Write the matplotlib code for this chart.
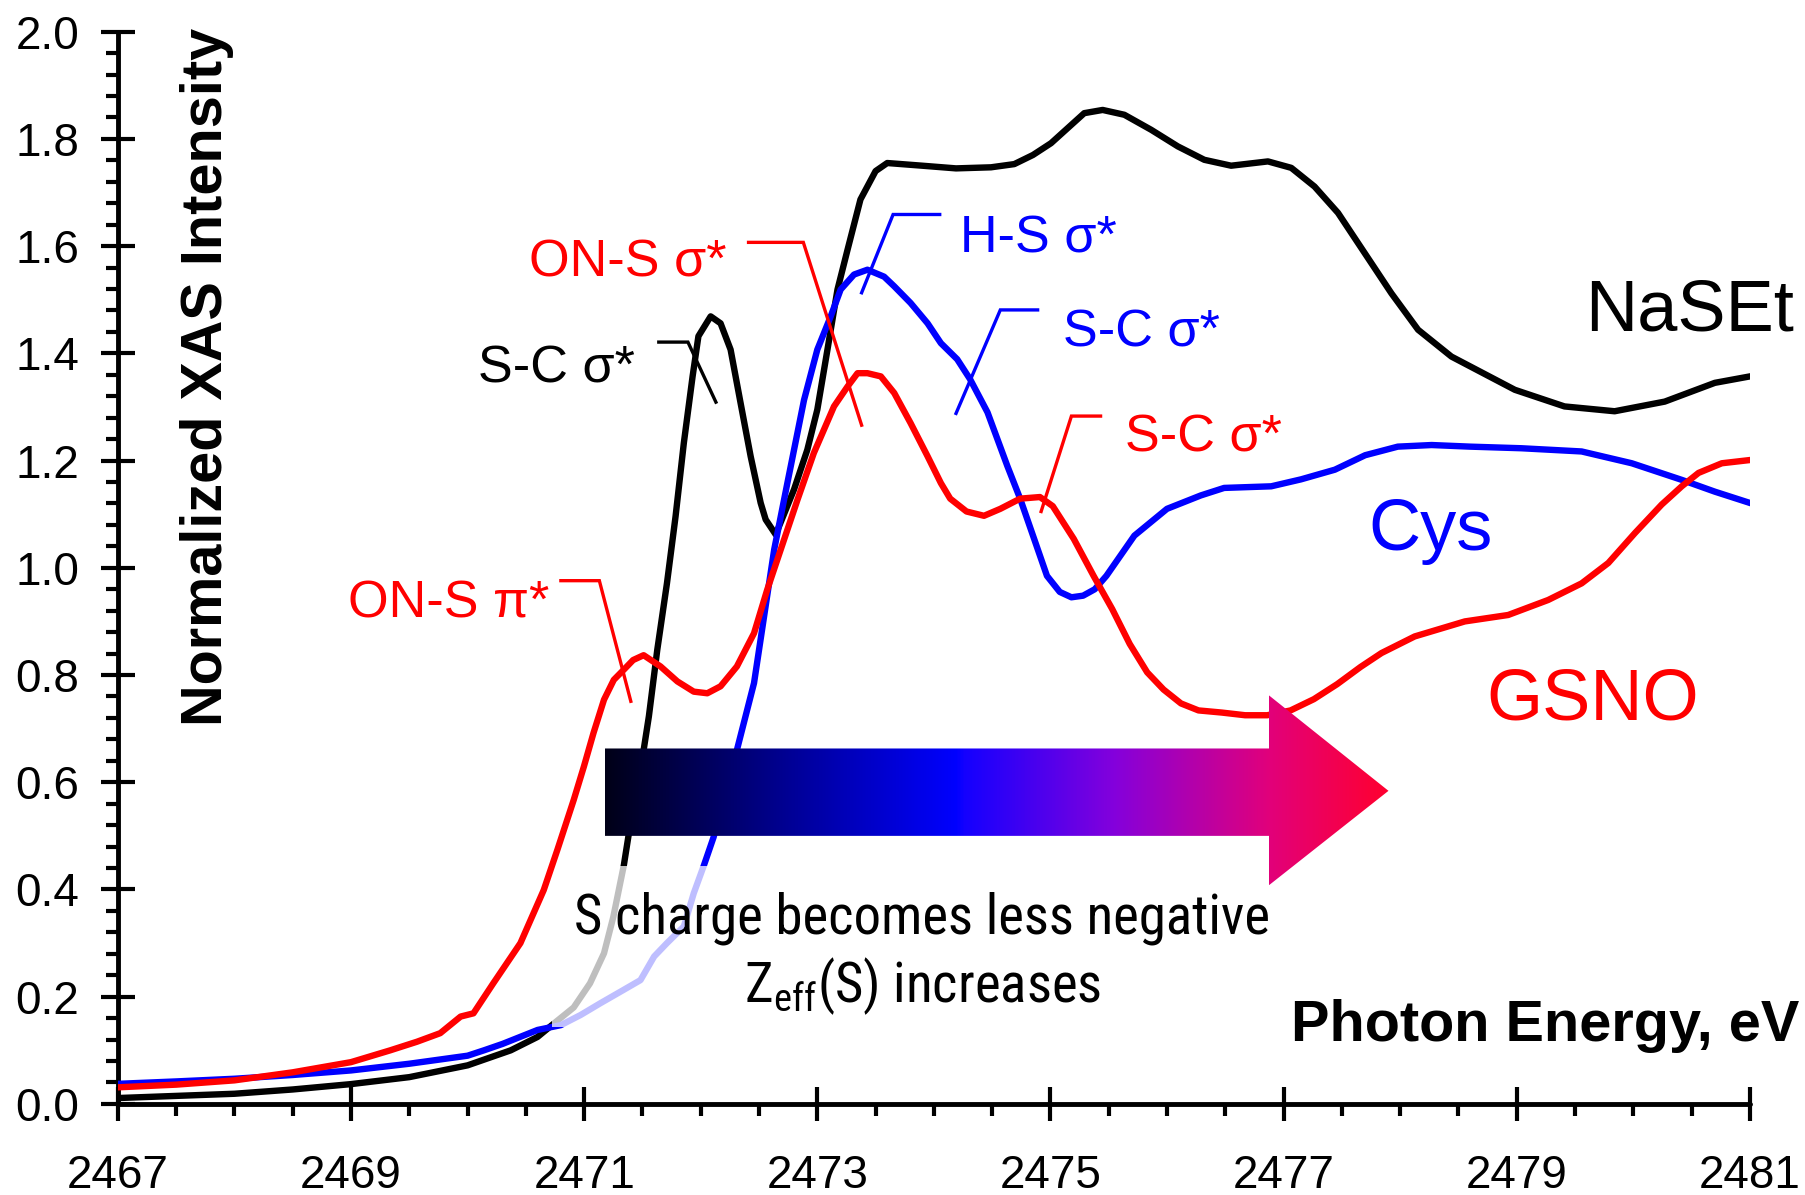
import numpy as np
import matplotlib
matplotlib.use('Agg')
from matplotlib import pyplot as plt
from matplotlib import font_manager
from matplotlib.colors import LinearSegmentedColormap
from matplotlib.patches import Polygon, Rectangle
from matplotlib.ticker import MultipleLocator

plt.rcParams['font.family'] = ['Liberation Sans', 'DejaVu Sans']

# ---- data ----
energy_naset = [2467.0, 2467.5, 2468.0, 2468.5, 2469.0, 2469.5, 2470.0, 2470.37, 2470.6, 2470.74,
                2470.91, 2471.05, 2471.17, 2471.25, 2471.34, 2471.38, 2471.51, 2471.555, 2471.627, 2471.71,
                2471.784, 2471.855, 2471.93, 2471.98, 2472.085, 2472.17, 2472.256, 2472.342, 2472.428, 2472.514,
                2472.557, 2472.643, 2472.80, 2472.914, 2473.0, 2473.087, 2473.173, 2473.259, 2473.37, 2473.5,
                2473.6, 2473.9, 2474.19, 2474.49, 2474.69, 2474.85, 2475.005, 2475.29, 2475.448, 2475.634,
                2475.864, 2476.093, 2476.32, 2476.55, 2476.866, 2477.066, 2477.266, 2477.467, 2477.696, 2477.925,
                2478.154, 2478.44, 2478.984, 2479.41, 2479.84, 2480.27, 2480.70, 2481.0]
naset = [0.011, 0.015, 0.019, 0.027, 0.037, 0.05, 0.072, 0.10, 0.125, 0.15,
         0.18, 0.225, 0.281, 0.349, 0.445, 0.50, 0.66, 0.723, 0.847, 0.971,
         1.096, 1.233, 1.357, 1.432, 1.469, 1.456, 1.407, 1.307, 1.208, 1.121,
         1.09, 1.062, 1.146, 1.22, 1.295, 1.407, 1.519, 1.593, 1.687, 1.74,
         1.755, 1.75, 1.745, 1.747, 1.753, 1.77, 1.792, 1.848, 1.854, 1.845,
         1.817, 1.786, 1.761, 1.75, 1.758, 1.746, 1.711, 1.662, 1.587, 1.512,
         1.444, 1.394, 1.332, 1.301, 1.292, 1.31, 1.345, 1.357]

energy_cys = [2467.0, 2467.5, 2468.0, 2468.5, 2469.0, 2469.5, 2470.0, 2470.14, 2470.3, 2470.6,
              2470.8, 2470.97, 2471.14, 2471.34, 2471.483, 2471.60, 2471.71, 2471.855, 2471.94, 2472.027,
              2472.11, 2472.31, 2472.457, 2472.543, 2472.63, 2472.743, 2472.886, 2473.0, 2473.115, 2473.2,
              2473.315, 2473.43, 2473.573, 2473.66, 2473.80, 2473.946, 2474.06, 2474.2, 2474.31, 2474.46,
              2474.63, 2474.74, 2474.86, 2474.97, 2475.08, 2475.18, 2475.28, 2475.38, 2475.48, 2475.72,
              2476.0, 2476.29, 2476.49, 2476.894, 2477.15, 2477.44, 2477.7, 2477.98, 2478.27, 2478.6,
              2479.04, 2479.557, 2479.987, 2480.416, 2480.70, 2481.0]
cys = [0.0375, 0.042, 0.047, 0.054, 0.0625, 0.075, 0.09, 0.10, 0.112, 0.138,
       0.147, 0.166, 0.188, 0.213, 0.231, 0.275, 0.30, 0.331, 0.393, 0.445,
       0.4975, 0.66, 0.785, 0.909, 1.034, 1.158, 1.313, 1.407, 1.469, 1.519,
       1.547, 1.556, 1.543, 1.525, 1.494, 1.456, 1.419, 1.389, 1.352, 1.29,
       1.19, 1.129, 1.054, 0.985, 0.955, 0.945, 0.948, 0.96, 0.985, 1.06,
       1.11, 1.135, 1.149, 1.152, 1.165, 1.183, 1.21, 1.226, 1.229, 1.226,
       1.223, 1.217, 1.195, 1.164, 1.142, 1.121]

energy_gsno = [2467.0, 2467.5, 2468.0, 2468.5, 2469.0, 2469.336, 2469.565, 2469.765, 2469.94, 2470.05,
               2470.22, 2470.453, 2470.653, 2470.77, 2470.91, 2470.997, 2471.08, 2471.17, 2471.254, 2471.34,
               2471.42, 2471.51, 2471.655, 2471.80, 2471.94, 2472.056, 2472.17, 2472.31, 2472.457, 2472.57,
               2472.686, 2472.83, 2472.97, 2473.143, 2473.259, 2473.345, 2473.43, 2473.545, 2473.66, 2473.80,
               2473.946, 2474.06, 2474.14, 2474.28, 2474.43, 2474.57, 2474.74, 2474.91, 2475.02, 2475.2,
               2475.37, 2475.53, 2475.68, 2475.83, 2475.97, 2476.12, 2476.27, 2476.47, 2476.67, 2476.86,
               2477.06, 2477.26, 2477.46, 2477.66, 2477.84, 2478.125, 2478.555, 2478.927, 2479.27, 2479.557,
               2479.786, 2480.015, 2480.244, 2480.416, 2480.56, 2480.76, 2481.0]
gsno = [0.031, 0.036, 0.044, 0.059, 0.078, 0.10, 0.116, 0.132, 0.163, 0.169,
        0.225, 0.30, 0.399, 0.474, 0.567, 0.629, 0.692, 0.754, 0.791, 0.81,
        0.828, 0.837, 0.816, 0.788, 0.769, 0.766, 0.779, 0.816, 0.878, 0.959,
        1.034, 1.127, 1.214, 1.301, 1.338, 1.363, 1.363, 1.357, 1.326, 1.270,
        1.208, 1.158, 1.129, 1.105, 1.097, 1.11, 1.129, 1.132, 1.115, 1.054,
        0.985, 0.923, 0.858, 0.805, 0.773, 0.747, 0.734, 0.73, 0.725, 0.725,
        0.734, 0.755, 0.783, 0.815, 0.841, 0.872, 0.90, 0.912, 0.94, 0.971,
        1.009, 1.065, 1.118, 1.152, 1.177, 1.195, 1.201]

x_ticks = [2467, 2469, 2471, 2473, 2475, 2477, 2479, 2481]
y_ticks = [0.0, 0.2, 0.4, 0.6, 0.8, 1.0, 1.2, 1.4, 1.6, 1.8, 2.0]

# peak labels: text, colour, text (x, baseline y), leader line points
peak_labels = [
    ('H-S σ*', 'blue', (2474.22, 1.588), [(2474.05, 1.659), (2473.65, 1.659), (2473.38, 1.513)]),
    ('S-C σ*', 'blue', (2475.11, 1.413), [(2474.89, 1.481), (2474.57, 1.481), (2474.19, 1.288)]),
    ('S-C σ*', 'red', (2475.64, 1.217), [(2475.43, 1.283), (2475.18, 1.283), (2474.92, 1.105)]),
    ('ON-S σ*', 'red', (2470.53, 1.543), [(2472.41, 1.607), (2472.88, 1.607), (2473.38, 1.266)]),
    ('S-C σ*', 'black', (2470.09, 1.345), [(2471.64, 1.421), (2471.89, 1.421), (2472.13, 1.309)]),
    ('ON-S π*', 'red', (2468.97, 0.908), [(2470.80, 0.976), (2471.13, 0.976), (2471.40, 0.751)]),
]


def find_narrow_font():
    # a condensed sans for the caption, if one is installed
    prefer = ['Liberation Sans Narrow', 'Roboto Condensed', 'Open Sans Condensed',
              'DejaVu Sans Condensed', 'Noto Sans Condensed', 'Arial Narrow']
    found = {}
    for f in font_manager.fontManager.ttflist:
        if f.style != 'normal' or f.weight not in (400, 'normal', 'regular'):
            continue
        if 'Narrow' in f.name or 'Condensed' in f.name or f.stretch in ('condensed', 'semi-condensed'):
            found.setdefault(f.name, f.fname)
    for name in prefer:
        if name in found:
            return font_manager.FontProperties(fname=found[name])
    if found:
        return font_manager.FontProperties(fname=list(found.values())[0])
    return None


fig = plt.figure(figsize=(18.06, 11.95), dpi=100)
ax = fig.add_axes([0.0653, 0.0762, 0.9036, 0.8973])

lw = 4.6
ax.plot(energy_naset, naset, color='black', lw=lw, zorder=3, solid_joinstyle='round')
ax.plot(energy_cys, cys, color='blue', lw=lw, zorder=3, solid_joinstyle='round')
ax.plot(energy_gsno, gsno, color='red', lw=lw, zorder=5, solid_joinstyle='round')

# white veil behind the caption (makes the curves below the arrow look pale)
ax.add_patch(Rectangle((2470.72, 0.143), 2476.95 - 2470.72, 0.4446 - 0.143,
                       facecolor='white', edgecolor='none', alpha=0.75, zorder=4))

# gradient arrow
x0, xm, xb, xt = 2471.175, 2474.19, 2476.875, 2477.90
arrow_pts = [(x0, 0.50), (xb, 0.50), (xb, 0.408), (xt, 0.584), (xb, 0.762), (xb, 0.663), (x0, 0.663)]
arrow_patch = Polygon(arrow_pts, closed=True, facecolor='none', edgecolor='none')
ax.add_patch(arrow_patch)
fm = (xm - x0) / (xt - x0)
cmap = LinearSegmentedColormap.from_list('charge', [(0.0, '#000018'), (fm * 0.5, '#000090'),
                                                    (fm, '#0000ff'), (fm + 0.01, '#1400ff'),
                                                    (0.65, '#8400dc'), (0.85, '#e2007a'),
                                                    (1.0, '#ff0030')])
grad = np.linspace(0, 1, 512).reshape(1, -1)
im = ax.imshow(grad, cmap=cmap, extent=[x0, xt, 0.408, 0.762], aspect='auto', zorder=6,
               interpolation='bilinear')
im.set_clip_path(arrow_patch)

narrow = find_narrow_font()
if narrow is not None:
    cap_kw = dict(fontproperties=narrow, fontsize=39.5)
else:
    cap_kw = dict(family='Liberation Sans', fontsize=35)
ax.text(2473.9, 0.318, 'S charge becomes less negative', ha='center', va='baseline',
        zorder=7, **cap_kw)
ax.text(2473.9, 0.189, r'Z$_{\mathregular{eff}}$(S) increases', ha='center', va='baseline',
        zorder=7, **cap_kw)

for text, col, (tx, ty), pts in peak_labels:
    ax.text(tx, ty, text, color=col, fontsize=37.5, ha='left', va='baseline', zorder=7)
    px = [p[0] for p in pts]
    py = [p[1] for p in pts]
    ax.plot(px, py, color=col, lw=2.4, zorder=7, solid_joinstyle='miter')

ax.text(2479.585, 1.442, 'NaSEt', color='black', fontsize=52, ha='left', va='baseline')
ax.text(2477.73, 1.034, 'Cys', color='blue', fontsize=52, ha='left', va='baseline')
ax.text(2478.74, 0.717, 'GSNO', color='red', fontsize=52, ha='left', va='baseline')

ax.text(2481.42, 0.118, 'Photon Energy, eV', fontsize=41.5, fontweight='bold',
        ha='right', va='baseline', clip_on=False)
fig.text(0.1146, 0.6845, 'Normalized XAS Intensity', fontsize=41.5, fontweight='bold',
         rotation=90, ha='center', va='center')

ax.set_xlim(2467, 2481)
ax.set_ylim(0, 2.0)
ax.set_xticks(x_ticks)
ax.set_xticklabels([str(v) for v in x_ticks])
ax.set_yticks(y_ticks)
ax.set_yticklabels(['%.1f' % v for v in y_ticks])
ax.xaxis.set_minor_locator(MultipleLocator(0.5))
ax.yaxis.set_minor_locator(MultipleLocator(0.04))

for s in ['top', 'right']:
    ax.spines[s].set_visible(False)
for s in ['left', 'bottom']:
    ax.spines[s].set_linewidth(3.5)
    ax.spines[s].set_capstyle('round')

ax.tick_params(which='major', direction='inout', length=24, width=3, labelsize=33)
ax.tick_params(axis='x', which='major', pad=24)
ax.tick_params(axis='y', which='major', pad=16)
ax.tick_params(which='minor', direction='out', length=8.6, width=3)
ax.patch.set_visible(False)

fig.savefig('out.png', dpi=100)
